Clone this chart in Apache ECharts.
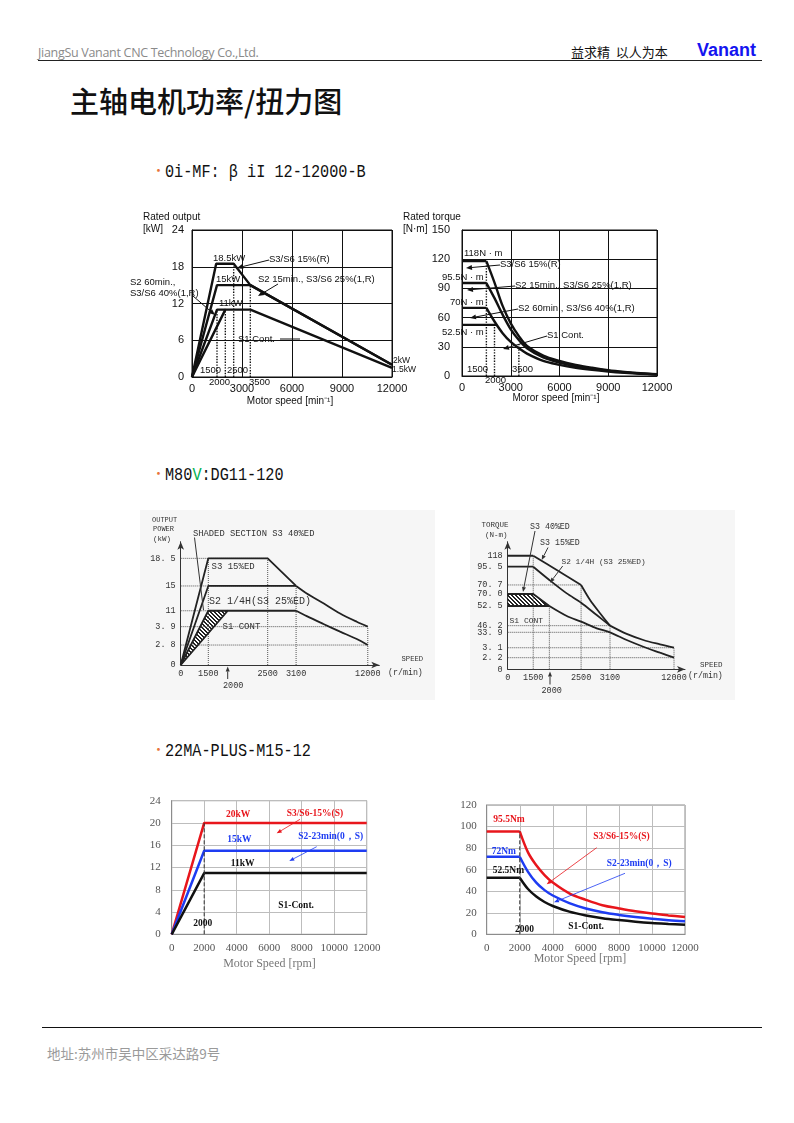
<!DOCTYPE html>
<html>
<head>
<meta charset="utf-8">
<script src="https://cdn.jsdelivr.net/npm/echarts@6/dist/echarts.min.js"></script>
<style>
body{margin:0;background:#fff;}
#page{position:relative;width:794px;height:1123px;overflow:hidden;background:#fff;font-family:"Noto Sans CJK SC",sans-serif;}
.abs{position:absolute;white-space:nowrap;}
.chart{position:absolute;}
.head{position:absolute;left:152px;white-space:nowrap;height:22px;line-height:22px;}
.head .dot{color:#e8743b;font-size:13px;vertical-align:top;}
.head .txt{display:inline-block;margin-left:0px;font-family:"Liberation Mono",monospace;font-size:19px;color:#111;transform:scaleX(0.8);transform-origin:left center;}
</style>
</head>
<body>
<div id="page">
  <div class="abs" style="left:38px;top:44px;font:12.5px 'Open Sans';color:#8a8a8a;letter-spacing:-0.3px;">JiangSu Vanant CNC Technology Co.,Ltd.</div>
  <div class="abs" style="left:571px;top:42px;font-size:13px;color:#111;">益求精&nbsp;&nbsp;以人为本</div>
  <div class="abs" style="left:697px;top:40px;font:bold 18px 'Liberation Sans',Arial;color:#1414f0;">Vanant</div>
  <div class="abs" style="left:38px;top:60px;width:724px;height:1px;background:#222;"></div>
  <div class="abs" style="left:70px;top:80px;font-size:29px;line-height:40px;color:#111;font-weight:500;">主轴电机功率/扭力图</div>

  <div class="head" style="top:159px;"><span class="dot">•</span><span class="txt">0i-MF: β iI 12-12000-B</span></div>
  <div class="head" style="top:462px;"><span class="dot">•</span><span class="txt">M80<span style="color:#00b050">V</span>:DG11-120</span></div>
  <div class="head" style="top:738px;"><span class="dot">•</span><span class="txt">22MA-PLUS-M15-12</span></div>

  <div id="c1" class="chart" style="left:120px;top:205px;width:300px;height:210px;"></div>
  <div id="c2" class="chart" style="left:395px;top:205px;width:290px;height:210px;"></div>
  <div id="c3" class="chart" style="left:140px;top:510px;width:295px;height:190px;background:#f6f6f6;"></div>
  <div id="c4" class="chart" style="left:470px;top:510px;width:265px;height:190px;background:#f6f6f6;"></div>
  <div id="c5" class="chart" style="left:135px;top:790px;width:250px;height:185px;"></div>
  <div id="c6" class="chart" style="left:445px;top:795px;width:265px;height:180px;"></div>

  <div class="abs" style="left:42px;top:1027px;width:720px;height:1.3px;background:#111;"></div>
  <div class="abs" style="left:47px;top:1043px;font-size:13.5px;color:#9a9a9a;">地址:苏州市吴中区采达路9号</div>
</div>
<script>
var SANS = '"Liberation Sans", Arial, sans-serif';
var MONO = '"Liberation Mono", monospace';
var SERIF = '"Liberation Serif", "Times New Roman", serif';
var RED = '#e8161c', BLUE = '#1e3cf2', BLACK = '#111';

// ---------- 0i-MF power  [rpm, kW] ----------
var c1S3 = [[0,0],[1450,18.5],[2500,18.5],[3500,15],[12000,2]];
var c1S2 = [[0,0],[1500,15],[3500,15],[12000,2]];
var c1S260 = [[0,0],[1500,11],[2000,11]];
var c1S1 = [[0,0],[2000,11],[3500,11],[12000,1.5]];
var c1Guides = [[1500,11],[2000,11],[2500,18.5],[3500,15]];

// ---------- 0i-MF torque [rpm, N·m] ----------
var c2S3 = [[0,118],[1500,118],[2000,96],[2500,72],[3000,54],[3500,41],[4000,31],[5000,21],[6000,15.5],[7000,11.5],[8000,8.5],[9000,6],[10000,4.2],[11000,2.8],[12000,1.8]];
var c2S2 = [[0,95.5],[1500,95.5],[2000,80],[2500,63],[3000,48],[3500,37],[4000,28.5],[5000,19],[6000,13.8],[7000,10],[8000,7.5],[9000,5.3],[10000,3.8],[11000,2.6],[12000,1.7]];
var c2S260 = [[0,70],[1500,70],[2000,56],[2500,44],[3000,35],[3500,28.5],[4000,23],[5000,15.5],[6000,11.5],[7000,8.5],[8000,6.3],[9000,4.6],[10000,3.3],[11000,2.3],[12000,1.6]];
var c2S1 = [[0,52.5],[2150,52.5]];
var c2Guides = [[1500,118],[2000,52.5],[3500,33]];

// ---------- DG11-120 power (schematic axes) ----------
var c3XTicks = [0,1500,2500,3100,12000];
var c3XLabels = ['0','1500','2500','3100','12000'];
var c3YTicks = [0,2.8,3.9,11,15,18.5];
var c3YLabels = ['0','2. 8','3. 9','11','15','18. 5'];
var c3S3 = [[0,0],[1500,18.5],[2500,18.5],[3100,15]];
var c3S2 = [[0,0],[1500,15],[3100,15]];
var c3S340 = [[0,0],[1500,11],[2000,11]];
var c3S1 = [[0,0],[2000,11],[3100,11]];
var c3UpTail = [[3100,15],[4425,13.8],[6494,12.2],[8564,9.8],[10634,6.1],[12000,3.9]];
var c3LowTail = [[3100,11],[4425,8.6],[6494,5.1],[8564,3.6],[10634,3.16],[12000,2.8]];
var c3Shade = [[0,0],[1500,11],[2000,11]];
var c3HGuides = [[18.5,2500],[15,3100],[11,1500],[3.9,12000],[2.8,12000]];
var c3VGuides = [[1500,18.5],[2500,18.5],[3100,15],[12000,3.9]];

// ---------- DG11-120 torque (schematic axes) ----------
var c4XTicks = [0,1500,2500,3100,12000];
var c4XLabels = ['0','1500','2500','3100','12000'];
var c4YTicks = [0,2.2,3.1,33.9,46.2,52.5,70,70.7,95.5,118];
var c4YLabels = ['0','2. 2','3. 1','33. 9','46. 2','52. 5','70. 0','70. 7','95. 5','118'];
var c4TopFlat = [[0,118],[1500,118]];
var c4TopBend = [[1500,118],[2116,91],[2500,70.7]];
var c4TopDrop = [[2500,70.7],[2686,61.3],[2893,50.2],[3100,46.2]];
var c4MidFlat = [[0,95.5],[1500,95.5]];
var c4MidBend = [[1500,95.5],[2000,77.5],[2274,70.05],[2500,57.4],[2824,49.6],[3100,46.2]];
var c4UpTail = [[3100,46.2],[5418,30.6],[7735,18.5],[10052,9.8],[12000,3.1]];
var c4S340 = [[0,70],[1500,70],[2000,52.5]];
var c4LowFlat = [[0,52.5],[2000,52.5]];
var c4LowTail = [[2000,52.5],[2274,49.3],[2500,47.5],[2824,41.3],[3100,33.9],[5418,18.5],[7735,5.1],[10052,2.65],[12000,2.2]];
var c4Shade = [[0,52.5],[0,70],[1500,70],[2000,52.5]];
var c4HGuides = [[70.7,2500],[46.2,3100],[33.9,3100],[3.1,12000],[2.2,12000]];
var c4VGuides = [[1500,118],[2000,52.5],[2500,70.7],[3100,46.2],[12000,3.1]];

// ---------- 22MA-PLUS power / torque ----------
var c5S3 = [[0,0],[2000,20],[12000,20]];
var c5S2 = [[0,0],[2000,15],[12000,15]];
var c5S1 = [[0,0],[2000,11],[12000,11]];
var c6Speed = [0,2000,2500,3000,3500,4000,5000,6000,7000,8000,9000,10000,11000,12000];
var c6S3 = [95.5,95.5,76,64,55,48,38,32,27,24,21.3,19.2,17.5,16];
var c6S2 = [72,72,58,48,41,36,29,24,20.5,18,16,14.4,13.1,12.2];
var c6S1 = [52.5,52.5,42,35,30,26.3,21,17.5,15,13.2,11.7,10.5,9.6,8.8];

// schematic axis layout (value -> fraction of axis length)
var c3XScale = {val:[0,1500,2000,2500,3100,12000], pos:[0,0.139,0.237,0.438,0.581,0.942]};
var c3YScale = {val:[0,2.8,3.9,11,15,18.5], pos:[0,0.162,0.311,0.440,0.641,0.865]};
var c4XScale = {val:[0,1500,2000,2500,3100,12000], pos:[0,0.144,0.235,0.414,0.577,0.938]};
var c4YScale = {val:[0,2.2,3.1,33.9,46.2,52.5,70,70.7,95.5,118], pos:[0,0.091,0.169,0.29,0.342,0.496,0.59,0.661,0.804,0.89]};

function pw(v, s){
  var a = s.val, b = s.pos;
  for (var i = 1; i < a.length; i++) {
    if (v <= a[i] || i === a.length - 1) return b[i-1] + (v - a[i-1]) / (a[i] - a[i-1]) * (b[i] - b[i-1]);
  }
  return b[0];
}
function mapPts(arr, sx, sy){ return arr.map(function(p){ return [pw(p[0], sx), pw(p[1], sy)]; }); }
function zip(xs, ys){ return xs.map(function(x, i){ return [x, ys[i]]; }); }
function plain(v){ return String(v); }

function lineS(data, color, width, smooth, dash){
  return {type:'line', data:data, symbol:'none', showSymbol:false, smooth:smooth || false, silent:true,
    lineStyle:{color:color, width:width, type:dash || 'solid'}, z:3};
}
// flat part straight, bending part smooth
function flatCurve(data, color, width, k){
  return [lineS(data.slice(0, k+1), color, width), lineS(data.slice(k), color, width, 0.35)];
}

function G(ox, oy){
  return {
    t: function(x, y, s, font, color, align){
      return {type:'text', x:x-ox, y:y-oy, silent:true, z:10,
        style:{text:s, font:font, fill:color || '#111', align:align || 'left', verticalAlign:'middle'}};
    },
    l: function(x1, y1, x2, y2, color, w){
      return {type:'line', silent:true, z:10, shape:{x1:x1-ox, y1:y1-oy, x2:x2-ox, y2:y2-oy},
        style:{stroke:color || '#111', lineWidth:w || 1}};
    },
    a: function(x1, y1, x2, y2, color, w, hl, hw){
      var ang = Math.atan2(y2-y1, x2-x1); hl = hl || 6; hw = hw || 2.5;
      var bx = x2 - hl*Math.cos(ang), by = y2 - hl*Math.sin(ang);
      var nx = -Math.sin(ang)*hw, ny = Math.cos(ang)*hw;
      return [this.l(x1, y1, bx, by, color, w),
        {type:'polygon', silent:true, z:10, shape:{points:[[x2-ox,y2-oy],[bx+nx-ox,by+ny-oy],[bx-nx-ox,by-ny-oy]]},
         style:{fill:color || '#111'}}];
    }
  };
}

function hatchPattern(){
  var c = document.createElement('canvas'); c.width = 4; c.height = 4;
  var g = c.getContext('2d'); g.fillStyle = '#fff'; g.fillRect(0,0,4,4); g.fillStyle = '#222';
  for (var x = 0; x < 4; x++) for (var y = 0; y < 4; y++) { var d = ((x - y) % 4 + 4) % 4; if (d === 0 || d === 1) g.fillRect(x, y, 1, 1); }
  return {image:c, repeat:'repeat'};
}
function shadeS(pts, sx, sy){
  var m = mapPts(pts, sx, sy), pat = hatchPattern();
  return {type:'custom', silent:true, z:2, data:[[0,0]],
    renderItem:function(params, api){
      return {type:'polygon', shape:{points:m.map(function(p){ return api.coord(p); })},
        style:{fill:pat, stroke:'#222', lineWidth:0.8}};
    }};
}

// ================= chart 1 =================
var c1 = echarts.init(document.getElementById('c1'));
var g1 = G(120, 205);
var f1 = '9.5px ' + SANS;
c1.setOption({
  animation:false,
  grid:{left:72, top:25, width:200, height:147, show:true, borderColor:'#111', borderWidth:1},
  xAxis:{type:'value', min:0, max:12000, interval:3000, axisLine:{lineStyle:{color:'#111'}}, axisTick:{show:false},
    splitLine:{lineStyle:{color:'#111', width:1}}, axisLabel:{color:'#111', fontSize:11, fontFamily:SANS, margin:6, formatter:plain}},
  yAxis:{type:'value', min:0, max:24, interval:6, axisLine:{lineStyle:{color:'#111'}}, axisTick:{show:false},
    splitLine:{lineStyle:{color:'#111', width:1}}, axisLabel:{color:'#111', fontSize:11, fontFamily:SANS, margin:8}},
  series:[c1S3, c1S2, c1S260, c1S1].map(function(d){ return lineS(d, '#111', 2.4); })
    .concat(c1Guides.map(function(g){ return lineS([[g[0],0],[g[0],g[1]]], '#111', 1.4, false, 'dotted'); })),
  graphic:[
    g1.t(143, 217, 'Rated output', '10px ' + SANS),
    g1.t(143, 229, '[kW]', '10px ' + SANS),
    g1.t(290, 401, 'Motor speed [min⁻¹]', '10px ' + SANS, '#111', 'center'),
    g1.t(213, 258, '18.5kW', f1), g1.t(216, 279, '15kW', f1), g1.t(219, 303, '11kW', f1),
    g1.t(269, 259, 'S3/S6 15%(R)', f1),
    g1.t(258, 279, 'S2 15min., S3/S6 25%(1,R)', f1),
    g1.t(130, 282, 'S2 60min.,', f1), g1.t(130, 293, 'S3/S6 40%(1,R)', f1),
    g1.t(238, 339, 'S1 Cont.', f1), g1.l(280, 339, 300, 339, '#111', 1),
    g1.t(393, 361, '2kW', '8.5px ' + SANS), g1.t(392, 369.5, '1.5kW', '8.5px ' + SANS),
    g1.t(200, 370, '1500', f1), g1.t(227, 370, '2500', f1),
    g1.t(209, 382, '2000', f1), g1.t(249, 382, '3500', f1)
  ].concat(g1.a(269, 260, 237, 268, '#111', 1), g1.a(278, 284, 258, 296, '#111', 1), g1.a(193, 296, 215, 315, '#111', 1))
});

// ================= chart 2 =================
var c2 = echarts.init(document.getElementById('c2'));
var g2 = G(395, 205);
c2.setOption({
  animation:false,
  grid:{left:67, top:25, width:195, height:146, show:true, borderColor:'#111', borderWidth:1},
  xAxis:{type:'value', min:0, max:12000, interval:3000, axisLine:{lineStyle:{color:'#111'}}, axisTick:{show:false},
    splitLine:{lineStyle:{color:'#111', width:1}}, axisLabel:{color:'#111', fontSize:11, fontFamily:SANS, margin:6, formatter:plain}},
  yAxis:{type:'value', min:0, max:150, interval:30, axisLine:{lineStyle:{color:'#111'}}, axisTick:{show:false},
    splitLine:{lineStyle:{color:'#111', width:1}}, axisLabel:{color:'#111', fontSize:11, fontFamily:SANS, margin:12}},
  series:[].concat(flatCurve(c2S3, '#111', 2.4, 1), flatCurve(c2S2, '#111', 2.4, 1), flatCurve(c2S260, '#111', 2.4, 1),
    [lineS(c2S1, '#111', 2.4)],
    c2Guides.map(function(g){ return lineS([[g[0],0],[g[0],g[1]]], '#111', 1.4, false, 'dotted'); })),
  graphic:[
    g2.t(403, 217.5, 'Rated torque', '10px ' + SANS),
    g2.t(403, 229, '[N·m]', '10px ' + SANS),
    g2.t(556, 398, 'Moror speed [min⁻¹]', '10px ' + SANS, '#111', 'center'),
    g2.t(464, 253, '118N · m', f1), g2.t(442, 277, '95.5N · m', f1),
    g2.t(450, 302, '70N · m', f1), g2.t(442, 332, '52.5N · m', f1),
    g2.t(500, 264, 'S3/S6 15%(R)', f1),
    g2.t(515, 285, 'S2 15min., S3/S6 25%(1,R)', f1),
    g2.t(518, 308, 'S2 60min., S3/S6 40%(1,R)', f1),
    g2.t(547, 335, 'S1 Cont.', f1),
    g2.t(467, 369, '1500', f1), g2.t(512, 369, '3500', f1), g2.t(485, 380, '2000', f1)
  ].concat(g2.a(500, 265, 466, 268, '#111', 1), g2.a(515, 286, 467, 290, '#111', 1),
    g2.a(518, 309, 470, 318, '#111', 1), g2.a(547, 336, 503, 349, '#111', 1))
});

// ============ schematic axes helper ============
function schemAxis(ticks, labels, scale, isX){
  var pos = ticks.map(function(v){ return pw(v, scale); });
  return {type:'value', min:0, max:1,
    axisLine:{show:true, symbol:['none','arrow'], symbolSize:[5,8], lineStyle:{color:'#333', width:1}},
    axisTick:{show:false}, splitLine:{show:false},
    axisLabel:{customValues:pos, color:'#333', fontSize:8.5, fontFamily:MONO, margin:isX ? 4 : 5,
      formatter:function(v){ for (var i = 0; i < pos.length; i++) if (Math.abs(pos[i]-v) < 1e-6) return labels[i]; return ''; }}};
}
function schemGuides(h, v, sx, sy){
  var out = [];
  h.forEach(function(g){ out.push(lineS(mapPts([[0,g[0]],[g[1],g[0]]], sx, sy), '#555', 1, false, 'dotted')); });
  v.forEach(function(g){ out.push(lineS(mapPts([[g[0],0],[g[0],g[1]]], sx, sy), '#555', 1, false, 'dotted')); });
  return out;
}

// ================= chart 3 =================
var c3 = echarts.init(document.getElementById('c3'));
var g3 = G(140, 510);
var m3 = function(d){ return mapPts(d, c3XScale, c3YScale); };
c3.setOption({
  animation:false,
  grid:{left:40.7, top:31.7, width:198.6, height:123.3},
  xAxis:schemAxis(c3XTicks, c3XLabels, c3XScale, true),
  yAxis:schemAxis(c3YTicks, c3YLabels, c3YScale, false),
  series:[shadeS(c3Shade, c3XScale, c3YScale)]
    .concat(schemGuides(c3HGuides, c3VGuides, c3XScale, c3YScale))
    .concat([c3S3, c3S2, c3S340, c3S1].map(function(d){ return lineS(m3(d), '#222', 1.8); }))
    .concat([lineS(m3(c3UpTail), '#222', 1.8, 0.3), lineS(m3(c3LowTail), '#222', 1.8, 0.3)]),
  graphic:[
    g3.t(152, 520, 'OUTPUT', '7px ' + MONO, '#333'),
    g3.t(153, 529.5, 'POWER', '7px ' + MONO, '#333'),
    g3.t(153, 539.5, '(kW)', '7.5px ' + MONO, '#333'),
    g3.t(193, 533.5, 'SHADED SECTION S3 40%ED', '8.8px ' + MONO, '#333'),
    g3.l(194.5, 537.5, 203.5, 610, '#333', 1),
    g3.t(211.5, 566.7, 'S3 15%ED', '9px ' + MONO, '#333'),
    g3.t(209, 601, 'S2 1/4H(S3 25%ED)', '10px ' + MONO, '#333'),
    g3.t(222.5, 626.7, 'S1 CONT', '9px ' + MONO, '#333'),
    g3.t(401.5, 659.5, 'SPEED', '7.2px ' + MONO, '#333'),
    g3.t(388, 673.3, '(r/min)', '8.3px ' + MONO, '#333'),
    g3.t(223, 685.5, '2000', '8.5px ' + MONO, '#333')
  ].concat(g3.a(227.7, 679, 227.7, 666.5, '#333', 1, 5, 2))
});

// ================= chart 4 =================
var c4 = echarts.init(document.getElementById('c4'));
var g4 = G(470, 510);
var m4 = function(d){ return mapPts(d, c4XScale, c4YScale); };
c4.setOption({
  animation:false,
  grid:{left:37.7, top:31.7, width:177.3, height:127.6},
  xAxis:schemAxis(c4XTicks, c4XLabels, c4XScale, true),
  yAxis:schemAxis(c4YTicks, c4YLabels, c4YScale, false),
  series:[shadeS(c4Shade, c4XScale, c4YScale)]
    .concat(schemGuides(c4HGuides, c4VGuides, c4XScale, c4YScale))
    .concat([c4TopFlat, c4MidFlat, c4S340, c4LowFlat].map(function(d){ return lineS(m4(d), '#222', 1.8); }))
    .concat([c4TopBend, c4TopDrop, c4MidBend, c4UpTail, c4LowTail].map(function(d){ return lineS(m4(d), '#222', 1.8, 0.3); })),
  graphic:[
    g4.t(481.5, 525, 'TORQUE', '7.5px ' + MONO, '#333'),
    g4.t(485, 535, '(N-m)', '7.5px ' + MONO, '#333'),
    g4.t(530, 526.7, 'S3 40%ED', '8.3px ' + MONO, '#333'),
    g4.t(540, 543.3, 'S3 15%ED', '8.3px ' + MONO, '#333'),
    g4.t(561.5, 561.7, 'S2 1/4H (S3 25%ED)', '7.8px ' + MONO, '#333'),
    g4.t(509.5, 621, 'S1 CONT', '8px ' + MONO, '#333'),
    g4.t(700, 665, 'SPEED', '7.5px ' + MONO, '#333'),
    g4.t(688, 676, '(r/min)', '8.3px ' + MONO, '#333'),
    g4.t(541.5, 690.5, '2000', '8.5px ' + MONO, '#333')
  ].concat(g4.a(535, 531, 523, 592, '#333', 1, 5, 2), g4.a(548, 547.5, 541.7, 560, '#333', 1, 5, 2),
    g4.a(562.7, 566, 550, 582.7, '#333', 1, 5, 2), g4.a(550, 684.5, 550, 671.5, '#333', 1, 5, 2))
});

// ================= chart 5 =================
function serifAxis(min, max, interval, margin){
  return {type:'value', min:min, max:max, interval:interval,
    axisLine:{lineStyle:{color:'#8c8c8c'}}, axisTick:{show:false},
    splitLine:{lineStyle:{color:'#bdbdbd', width:1}},
    axisLabel:{color:'#555', fontSize:11, fontFamily:SERIF, margin:margin, formatter:plain}};
}
var c5 = echarts.init(document.getElementById('c5'));
var g5 = G(135, 790);
var b5 = 'bold 9.5px ' + SERIF;
c5.setOption({
  animation:false,
  grid:{left:36.7, top:10.7, width:195, height:133.6, show:true, borderColor:'#8c8c8c', borderWidth:1},
  xAxis:serifAxis(0, 12000, 2000, 8),
  yAxis:serifAxis(0, 24, 4, 11),
  series:[lineS(c5S3, RED, 2.5), lineS(c5S2, BLUE, 2.5), lineS(c5S1, BLACK, 2.5),
    lineS([[2000,0],[2000,20]], '#333', 1, false, 'dashed')],
  graphic:[
    g5.t(226, 815, '20kW', b5, RED), g5.t(286.7, 813.3, 'S3/S6-15%(S)', b5, RED),
    g5.t(227.3, 840, '15kW', b5, BLUE), g5.t(298.3, 836.7, 'S2-23min(0，S)', b5, BLUE),
    g5.t(230.7, 864, '11kW', b5, BLACK), g5.t(278.3, 906, 'S1-Cont.', b5, BLACK),
    g5.t(193.3, 923.3, '2000', b5, BLACK),
    g5.t(269.5, 963.5, 'Motor Speed [rpm]', '12px ' + SERIF, '#777', 'center')
  ].concat(g5.a(300, 819.3, 276.7, 833.3, RED, 0.8, 5, 2), g5.a(316.7, 846.7, 289.3, 861, BLUE, 0.8, 5, 2))
});

// ================= chart 6 =================
var c6 = echarts.init(document.getElementById('c6'));
var g6 = G(445, 795);
c6.setOption({
  animation:false,
  grid:{left:41.7, top:10, width:198.3, height:129.3, show:true, borderColor:'#8c8c8c', borderWidth:1},
  xAxis:serifAxis(0, 12000, 2000, 8),
  yAxis:serifAxis(0, 120, 20, 10),
  series:[].concat(flatCurve(zip(c6Speed, c6S3), RED, 2.5, 1), flatCurve(zip(c6Speed, c6S2), BLUE, 2.5, 1),
    flatCurve(zip(c6Speed, c6S1), BLACK, 2.5, 1), [lineS([[2000,0],[2000,95.5]], '#333', 1, false, 'dashed')]),
  graphic:[
    g6.t(493.3, 820, '95.5Nm', b5, RED), g6.t(593.3, 836.7, 'S3/S6-15%(S)', b5, RED),
    g6.t(491.7, 851.7, '72Nm', b5, BLUE), g6.t(606.7, 863.3, 'S2-23min(0，S)', b5, BLUE),
    g6.t(492.7, 871, '52.5Nm', b5, BLACK), g6.t(568.3, 926.7, 'S1-Cont.', b5, BLACK),
    g6.t(515, 930, '2000', b5, BLACK),
    g6.t(580, 958.5, 'Motor Speed [rpm]', '12px ' + SERIF, '#777', 'center')
  ].concat(g6.a(596.7, 847.7, 546.7, 884.3, RED, 0.8, 5, 2), g6.a(625, 873.3, 554, 902.3, BLUE, 0.8, 5, 2))
});
</script>
</body>
</html>
